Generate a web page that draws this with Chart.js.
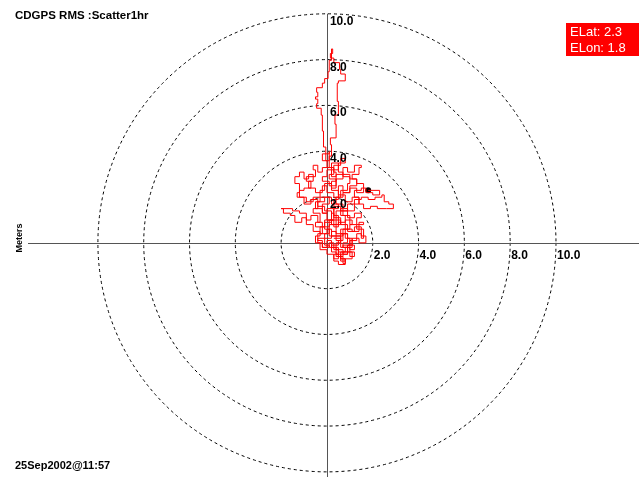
<!DOCTYPE html>
<html>
<head>
<meta charset="utf-8">
<script src="https://cdn.jsdelivr.net/npm/chart.js@4.4.1/dist/chart.umd.min.js"></script>
<style>
html,body{margin:0;padding:0;background:#fff;}
canvas{display:block;}
</style>
</head>
<body>
<canvas id="c" width="639" height="477"></canvas>
<script>
// ---- data (metres east / north of reference point) ----
const chartTitle = 'CDGPS RMS :Scatter1hr';
const dateLabel = '25Sep2002@11:57';
const axisTitle = 'Meters';
const ringValues = [2, 4, 6, 8, 10];
const ringLabels = ['2.0', '4.0', '6.0', '8.0', '10.0'];
const errorNames = ['ELat', 'ELon'];
const errorValues = [2.3, 1.8];

const startEast = [0.3,0.6,0.4,0.7,0.9,0.6,0.2,0.0,-0.3,-0.1,
                   0.2,0.5,0.3,0.0,-0.2,0.1,-0.3,-0.1,0.2,0.4,
                   0.1,0.3,0.0,-0.2,0.1];
const startNorth = [0.2,0.0,-0.3,-0.5,-0.2,0.3,0.6,0.4,0.7,1.0,
                    0.8,1.2,1.5,1.3,1.7,2.0,2.3,2.6,2.4,2.8,
                    3.0,3.3,3.6,3.9,4.0];

const spikeEast = [0.1,-0.05,-0.15,-0.2,-0.25,-0.45,-0.4,-0.5,-0.4,-0.45,
                   -0.2,-0.1,0.05,0.1,0.2,0.25,0.15,0.3,0.55,0.6,
                   0.8,0.5,0.45,0.5,0.35,0.4,0.15,0.2,0.1];
const spikeNorth = [3.6,4.2,4.9,5.6,5.9,6.1,6.3,6.4,6.6,6.8,
                    7.0,7.2,7.5,8.0,8.5,8.3,8.1,7.9,7.6,7.4,
                    7.1,7.0,6.2,5.6,5.2,4.6,4.3,3.8,3.3];

const denseEast = [-0.2,-0.4,-0.6,-0.5,-0.9,-0.7,-1.0,-1.2,-0.9,-0.6,
                   -0.3,-0.5,-0.2,0.0,0.3,0.2,-0.1,0.1,0.4,0.6,
                   0.9,1.1,0.9,1.1,0.8,0.6,0.4,0.1,-0.1,-0.4,
                   -0.3,0.0,0.3,0.5,0.8,1.1,1.4,1.7,1.5,1.2,
                   0.9,0.6,0.4,0.7,0.4,0.7,1.0,1.3,1.6,1.3,
                   1.0,0.7,0.4,0.1,-0.2,0.0,0.2,0.5,0.2];
const denseNorth = [3.1,3.4,3.2,2.9,2.7,2.4,2.3,2.0,1.8,2.0,
                    1.8,1.5,1.3,1.0,1.3,0.9,0.6,0.3,0.1,0.4,
                    0.2,-0.1,-0.4,-0.7,-0.8,-0.5,-0.2,-0.1,0.2,0.0,
                    -0.3,-0.5,-0.7,-0.4,-0.2,0.2,0.0,0.3,0.7,0.5,
                    0.8,1.0,1.4,1.7,2.0,2.2,2.4,2.2,2.6,2.8,
                    3.0,2.8,2.5,2.7,2.9,3.2,3.5,3.2,2.9];

const cloudEast = [0.4,0.7,0.9,1.2,1.5,1.4,1.1,1.3,1.0,0.7,
                   0.5,0.8,1.1,1.4,1.2,0.9,0.6,0.8,0.5,0.3,
                   0.1,-0.2,-0.4,-0.7,-0.9,-1.2,-1.5,-2.0,-1.9,-1.6,
                   -1.4,-1.1,-0.9,-0.6,-0.3,-0.5,-0.2,0.1,0.3,0.5,
                   0.7,0.8,0.6,0.9,1.2,1.0,1.3,1.5,1.6,1.3,
                   1.0,0.7,0.4,0.2,-0.1,0.1,0.4,0.2,-0.1,-0.4,
                   -0.7,-1.0,-1.3,-1.2,-1.4,-1.2,-1.0,-0.8,-0.6,-0.8,
                   -0.5,-0.2,0.0,0.3,0.6,0.9,1.0,0.7,0.5,0.8,
                   0.6,0.3,0.4,0.2,0.5,0.3,0.6,0.9,1.2,1.5,
                   1.3,1.6,1.4,1.1,0.8,1.0,0.7,0.9,0.6,0.8,
                   0.5,0.3,0.5,0.2,0.0,-0.2,-0.4,-0.2,-0.5,-0.3,
                   -0.6,-0.4,-0.1,0.2,0.5,0.3,0.6,0.4,0.7,0.5,
                   0.2,0.4,0.7,1.0,1.2,1.0,0.7,0.9,0.6,0.8,
                   1.1,1.0,0.7,0.9,1.2,1.5,1.8,2.1,2.4,2.5,
                   2.7,2.9,2.6,2.2,1.9,1.6,1.4,1.2,1.5,1.7,
                   2.0,2.3,1.8];
const cloudNorth = [3.0,3.3,3.1,3.4,3.3,3.0,2.8,2.5,2.2,2.5,
                    2.1,1.8,2.0,1.7,1.4,1.5,1.2,0.9,0.7,1.0,
                    0.7,0.9,1.2,1.0,1.3,1.4,1.5,1.5,1.3,1.2,
                    0.9,1.1,0.8,0.5,0.3,0.0,-0.2,0.0,-0.3,-0.6,
                    -0.9,-0.7,-0.4,-0.1,-0.3,0.1,0.4,0.2,0.6,0.8,
                    0.6,0.3,0.5,0.2,0.4,0.8,1.0,1.4,1.6,1.9,
                    1.7,2.0,2.2,2.6,2.9,3.1,2.8,3.0,2.7,2.4,
                    2.2,2.5,2.2,2.0,2.3,2.6,2.9,3.1,3.5,3.7,
                    3.4,3.1,2.7,2.3,1.9,1.6,1.4,1.1,1.3,1.1,
                    0.8,0.9,0.5,0.6,0.2,-0.1,-0.2,-0.5,-0.7,-0.95,
                    -0.8,-0.5,-0.2,0.1,-0.2,0.1,0.4,0.7,0.9,1.3,
                    1.5,1.8,2.0,1.7,1.5,1.1,0.8,0.4,0.1,-0.1,
                    -0.4,-0.6,-0.4,-0.6,-0.4,-0.2,0.0,0.4,0.6,1.0,
                    0.8,1.2,1.4,1.7,1.9,2.0,1.9,2.0,2.1,1.8,
                    1.7,1.5,1.5,1.6,1.5,1.7,2.0,2.3,2.4,2.2,
                    2.1,2.3,2.3];

// ---- build ----
const east = [...startEast, ...spikeEast, ...denseEast, ...cloudEast];
const north = [...startNorth, ...spikeNorth, ...denseNorth, ...cloudNorth];
const track = east.map((x, i) => ({x: x, y: north[i]}));
const current = [track[track.length - 1]];

const FONT = '"Liberation Sans", Arial, sans-serif';

const decorPlugin = {
  id: 'decor',
  beforeDatasetsDraw(chart) {
    const ctx = chart.ctx;
    const xs = chart.scales.x, ys = chart.scales.y;
    const cx = xs.getPixelForValue(0), cy = ys.getPixelForValue(0);
    ctx.save();
    ctx.strokeStyle = '#000';
    ctx.lineWidth = 1;
    ctx.setLineDash([3, 3]);
    ringValues.forEach(r => {
      const rad = xs.getPixelForValue(r) - cx;
      ctx.beginPath();
      ctx.arc(cx, cy, rad, 0, Math.PI * 2);
      ctx.stroke();
    });
    ctx.setLineDash([]);
    ctx.strokeStyle = '#555';
    ctx.beginPath();
    const top = ys.getPixelForValue(ringValues[ringValues.length - 1]) - 1;
    ctx.moveTo(Math.round(cx) + 0.5, top);
    ctx.lineTo(Math.round(cx) + 0.5, chart.height);
    ctx.moveTo(28, Math.round(cy) + 0.5);
    ctx.lineTo(chart.width, Math.round(cy) + 0.5);
    ctx.stroke();
    ctx.restore();
  },
  afterDatasetsDraw(chart) {
    const ctx = chart.ctx;
    const xs = chart.scales.x, ys = chart.scales.y;
    const cx = xs.getPixelForValue(0), cy = ys.getPixelForValue(0);
    ctx.save();
    ctx.fillStyle = '#000';
    ctx.font = 'bold 12px ' + FONT;
    ctx.textAlign = 'left';
    ctx.textBaseline = 'top';
    ringValues.forEach((r, i) => {
      ctx.fillText(ringLabels[i], cx + 3, ys.getPixelForValue(r) + 1);
      ctx.fillText(ringLabels[i], xs.getPixelForValue(r) + 1, cy + 7);
    });
    ctx.textBaseline = 'middle';
    ctx.font = 'bold 11.5px ' + FONT;
    ctx.fillText(chartTitle, 15, 16);
    ctx.font = 'bold 11px ' + FONT;
    ctx.fillText(dateLabel, 15, 466);
    ctx.save();
    ctx.translate(20, 238);
    ctx.rotate(-Math.PI / 2);
    ctx.textAlign = 'center';
    ctx.font = 'bold 9px ' + FONT;
    ctx.fillText(axisTitle, 0, 0);
    ctx.restore();
    ctx.fillStyle = '#ff0000';
    ctx.fillRect(566, 23, 73, 33);
    ctx.fillStyle = '#fff';
    ctx.font = '13px ' + FONT;
    ctx.textAlign = 'left';
    errorNames.forEach((n, i) => {
      ctx.fillText(n + ': ' + errorValues[i].toFixed(1), 570, 32 + i * 16.5);
    });
    ctx.restore();
  }
};

new Chart(document.getElementById('c'), {
  type: 'scatter',
  data: {
    datasets: [
      {
        data: track,
        showLine: true,
        stepped: true,
        borderColor: '#ff0000',
        borderWidth: 1,
        pointRadius: 0,
        fill: false,
        clip: false
      },
      {
        data: current,
        pointRadius: 3,
        pointBackgroundColor: '#000',
        pointBorderColor: '#000',
        borderWidth: 0,
        clip: false
      }
    ]
  },
  options: {
    responsive: false,
    devicePixelRatio: 1,
    animation: false,
    layout: {padding: 0},
    plugins: {legend: {display: false}, tooltip: {enabled: false}, title: {display: false}},
    scales: {
      x: {type: 'linear', display: false, min: -14.1, max: 13.45},
      y: {type: 'linear', display: false, min: -10.09, max: 10.47}
    }
  },
  plugins: [decorPlugin]
});
</script>
</body>
</html>
